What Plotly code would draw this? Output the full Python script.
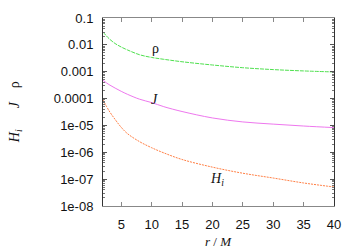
import plotly.graph_objects as go

r = [2, 3, 4, 5, 6, 8, 10, 12, 15, 20, 25, 30, 35, 40]
rho = [3.0e-2, 1.7e-2, 1.12e-2, 8.3e-3, 6.5e-3, 4.3e-3, 3.4e-3, 2.9e-3, 2.35e-3, 1.78e-3, 1.41e-3, 1.20e-3, 1.07e-3, 9.8e-4]
J = [4.8e-4, 3.3e-4, 2.45e-4, 1.86e-4, 1.45e-4, 9.5e-5, 7.1e-5, 5.0e-5, 3.3e-5, 1.9e-5, 1.35e-5, 1.12e-5, 9.5e-6, 8.3e-6]
H_i = [8.9e-5, 3.5e-5, 1.66e-5, 8.5e-6, 5.0e-6, 2.5e-6, 1.48e-6, 9.5e-7, 5.4e-7, 2.8e-7, 1.66e-7, 1.1e-7, 7.2e-8, 5.1e-8]

x_ticks = [5, 10, 15, 20, 25, 30, 35, 40]
y_ticks = [1e-1, 1e-2, 1e-3, 1e-4, 1e-5, 1e-6, 1e-7, 1e-8]
y_tick_text = ["0.1", "0.01", "0.001", "0.0001", "1e-05", "1e-06", "1e-07", "1e-08"]

fig = go.Figure()
fig.add_trace(go.Scatter(x=r, y=rho, mode="lines", line=dict(color="#4fe04f", width=1, dash="4px,1px", shape="spline"), showlegend=False))
fig.add_trace(go.Scatter(x=r, y=J, mode="lines", line=dict(color="#ee77ee", width=1, shape="spline"), showlegend=False))
fig.add_trace(go.Scatter(x=r, y=H_i, mode="lines", line=dict(color="#ff7f45", width=1, dash="2px,1px", shape="spline"), showlegend=False))

serif = "Liberation Serif, Times New Roman, serif"
sans = "Liberation Sans, Arial, sans-serif"

fig.update_layout(
    width=360, height=252,
    margin=dict(l=103, r=26, t=18, b=46),
    paper_bgcolor="white", plot_bgcolor="white",
    font=dict(family=sans, size=13, color="#111"),
    xaxis=dict(range=[2, 40], tickvals=x_ticks, ticks="inside", ticklen=4,
               showline=True, linecolor="#888", linewidth=1, mirror="ticks",
               tickcolor="#888", showgrid=False, zeroline=False,
               ticklabelstandoff=6),
    yaxis=dict(type="log", range=[-8, -1], tickvals=y_ticks, ticktext=y_tick_text,
               ticks="inside", ticklen=4, showline=True, linecolor="#333", linewidth=1,
               mirror="ticks", tickcolor="#555", showgrid=False, zeroline=False,
               ticklabelstandoff=6,
               minor=dict(ticks="inside", ticklen=2, dtick="D1", tickcolor="#777", showgrid=False)),
)

fig.add_annotation(x=-0.38, y=0.50, xref="paper", yref="paper", xanchor="center", yanchor="middle",
                   textangle=-90, showarrow=False,
                   text="<i>H<sub>i</sub></i>&nbsp;&nbsp;&nbsp;&nbsp;&nbsp;&nbsp;<i>J</i>&nbsp;&nbsp;&nbsp;&nbsp;ρ",
                   font=dict(family=serif, size=14, color="#111"))
fig.add_annotation(x=0.502, y=-0.19, xref="paper", yref="paper", xanchor="center", yanchor="middle",
                   showarrow=False, text="<i>r</i> / <i>M</i>",
                   font=dict(family=serif, size=13, color="#111"))
fig.add_annotation(x=10.6, y=-2.12, showarrow=False, text="ρ",
                   font=dict(family=serif, size=14, color="#111"))
fig.add_annotation(x=10.5, y=-4.02, showarrow=False, text="<i>J</i>",
                   font=dict(family=serif, size=14, color="#111"))
fig.add_annotation(x=20.8, y=-7.03, showarrow=False, text="<i>H<sub>i</sub></i>",
                   font=dict(family=serif, size=14, color="#111"))

fig.write_html("out.html", config={"displayModeBar": False},
               post_script="document.body.style.margin='0px';")
